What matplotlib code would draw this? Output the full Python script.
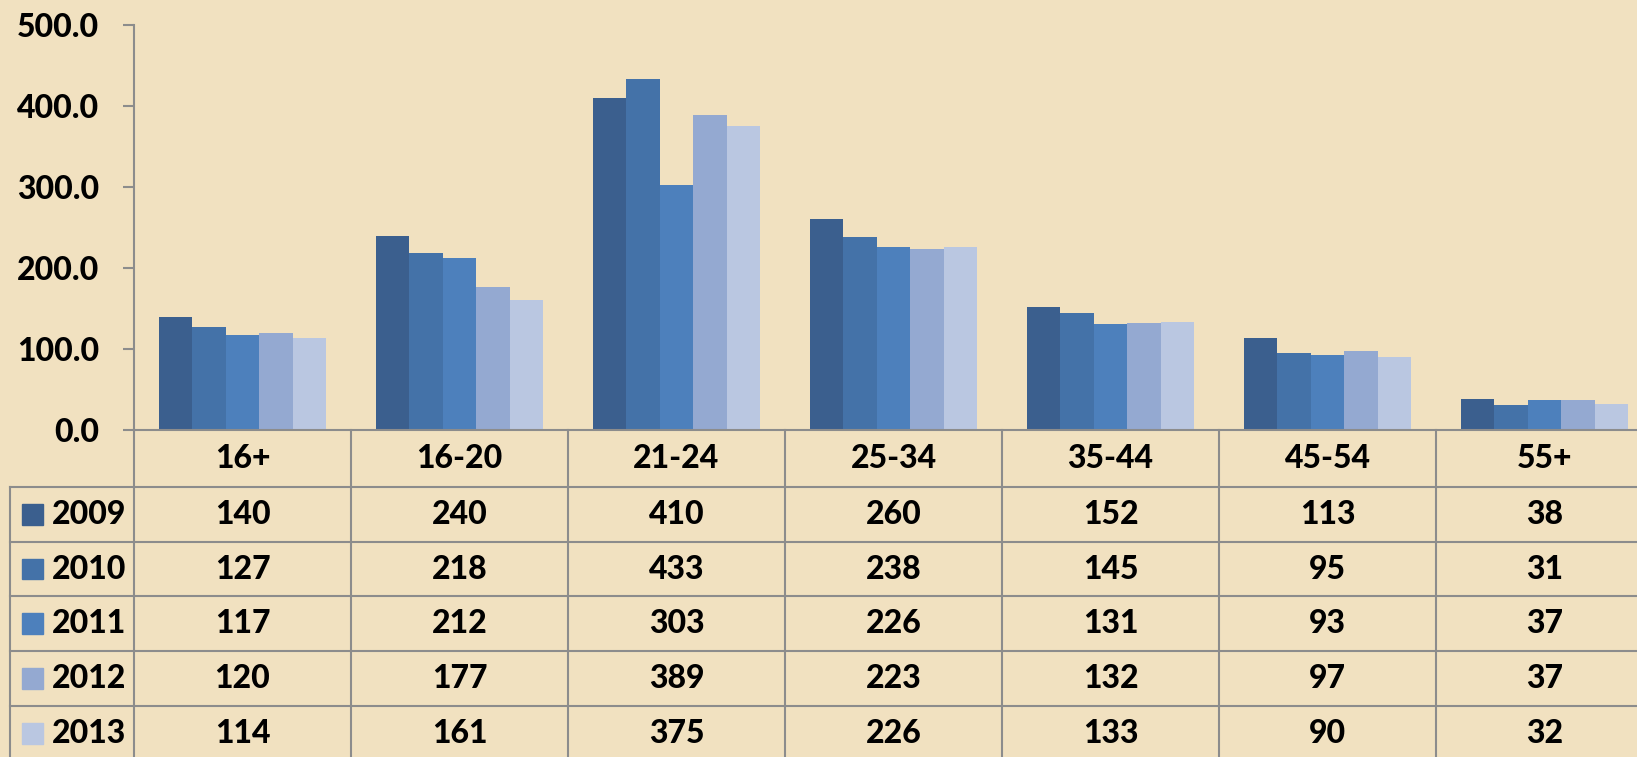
import numpy as np
import matplotlib.pyplot as plt

plt.rcParams['font.family'] = ['Lato', 'DejaVu Sans']
plt.rcParams['font.weight'] = 'black'

groups = ['16+', '16-20', '21-24', '25-34', '35-44', '45-54', '55+']
years = ['2009', '2010', '2011', '2012', '2013']
v2009 = [140, 240, 410, 260, 152, 113, 38]
v2010 = [127, 218, 433, 238, 145, 95, 31]
v2011 = [117, 212, 303, 226, 131, 93, 37]
v2012 = [120, 177, 389, 223, 132, 97, 37]
v2013 = [114, 161, 375, 226, 133, 90, 32]
series = [v2009, v2010, v2011, v2012, v2013]
colors = ['#3B5F8E', '#4472A8', '#4D80BC', '#94A9D1', '#BAC7E1']

bg = '#F1E1C0'
grid_c = '#8C8C8C'
fs = 23
fw = 'black'

W, H = 1637, 757
fig = plt.figure(figsize=(W/100, H/100), dpi=100, facecolor=bg)

# chart area: y axis at px 134, category width 217 px
x0, cw = 134, 217
right = x0 + cw*len(groups)
ax = fig.add_axes([x0/W, (H-430)/H, (right-x0)/W, (430-25)/H])
ax.set_facecolor('none')
x = np.arange(len(groups))
bw = 0.154
for i, vals in enumerate(series):
    ax.bar(x + (i-2)*bw, vals, bw, color=colors[i], linewidth=0, zorder=2)
ax.set_xlim(-0.5, len(groups)-0.5)
ax.set_ylim(0, 500)
ax.set_yticks(np.arange(0, 501, 100))
ax.set_yticklabels(['%.1f' % t for t in np.arange(0, 501, 100)], fontweight=fw)
ax.tick_params(axis='y', length=8, width=1.5, color=grid_c, pad=17, labelsize=fs)
ax.set_xticks([])
for s in ['top', 'right']:
    ax.spines[s].set_visible(False)
for s in ['left', 'bottom']:
    ax.spines[s].set_color(grid_c)
    ax.spines[s].set_linewidth(1.5)

# data table under the chart
h0 = 57/55
nrow = len(years)
tab = fig.add_axes([x0/W, (H-761)/H, (right-x0)/W, (761-430)/H])
tab.set_facecolor('none')
tab.set_xlim(-0.5, len(groups)-0.5)
tab.set_ylim(h0 + nrow, 0)
tab.axis('off')
lab_w = 124/cw
lw = 1.5
for k in range(len(groups)+1):
    tab.plot([k-0.5, k-0.5], [0, h0+nrow], color=grid_c, lw=lw, clip_on=False)
tab.plot([-0.5-lab_w]*2, [h0, h0+nrow], color=grid_c, lw=lw, clip_on=False)
for r in range(nrow):
    tab.plot([-0.5-lab_w, len(groups)-0.5], [h0+r, h0+r], color=grid_c, lw=lw, clip_on=False)
for j, g in enumerate(groups):
    tab.text(j, h0/2, g, ha='center', va='center', fontsize=fs, fontweight=fw)
for i, vals in enumerate(series):
    yc = h0 + i + 0.5
    for j, v in enumerate(vals):
        tab.text(j, yc, str(v), ha='center', va='center', fontsize=fs, fontweight=fw)
    sq = 21/cw
    tab.add_patch(plt.Rectangle((-0.5-lab_w + 12/cw, yc - 0.19), sq, 0.38,
                                color=colors[i], clip_on=False))
    tab.text(-0.5-lab_w + 42/cw, yc, years[i], ha='left', va='center',
             fontsize=fs, fontweight=fw)

fig.savefig('out.png', dpi=100, facecolor=bg)
